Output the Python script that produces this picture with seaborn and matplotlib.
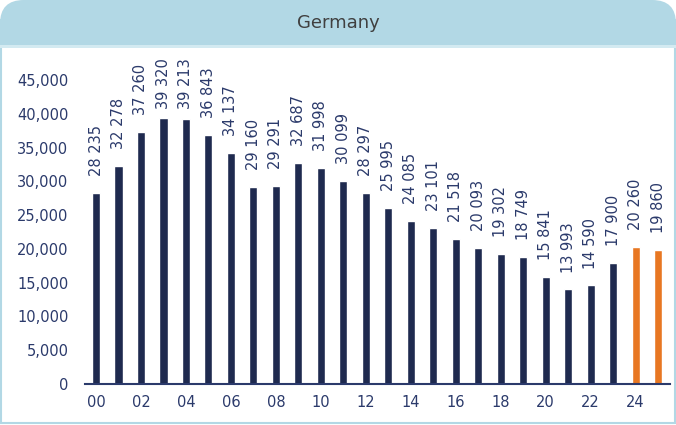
import matplotlib
matplotlib.use("Agg")
import matplotlib.pyplot as plt
from matplotlib.patches import FancyBboxPatch, Rectangle
from matplotlib.ticker import FuncFormatter
import pandas as pd
import seaborn as sns

years = ["00", "01", "02", "03", "04", "05", "06", "07", "08", "09", "10", "11", "12",
         "13", "14", "15", "16", "17", "18", "19", "20", "21", "22", "23", "24", "25"]
values = [28235, 32278, 37260, 39320, 39213, 36843, 34137, 29160, 29291, 32687, 31998, 30099,
          28297, 25995, 24085, 23101, 21518, 20093, 19302, 18749, 15841, 13993, 14590, 17900,
          20260, 19860]
forecast = ["24", "25"]

navy = "#1f2a4f"
orange = "#e87722"
text_col = "#2b3a6b"
frame_col = "#b2d8e5"

data = pd.DataFrame({"year": years, "value": values})
colors = {y: (orange if y in forecast else navy) for y in years}

sns.set_style("white")
plt.rcParams['font.family'] = ['DejaVu Sans']

fig = plt.figure(figsize=(6.76, 4.25), dpi=100)

# frame + title bar (rounded top corners only)
fig.patches.append(Rectangle((0.002, 0.004), 0.996, 0.95, transform=fig.transFigure,
                             fill=False, edgecolor=frame_col, linewidth=1.5, zorder=0))
fig.patches.append(FancyBboxPatch((0.0, 0.894), 1.0, 0.106, transform=fig.transFigure,
                                  boxstyle="round,pad=0,rounding_size=0.035",
                                  facecolor=frame_col, edgecolor="none", zorder=1,
                                  mutation_aspect=676 / 425))
fig.patches.append(Rectangle((0.0, 0.894), 1.0, 0.05, transform=fig.transFigure,
                             facecolor=frame_col, edgecolor="none", zorder=1))
fig.patches.append(Rectangle((0.0, 0.888), 1.0, 0.006, transform=fig.transFigure,
                             facecolor="#d3eaf1", edgecolor="none", zorder=1))
fig.text(0.5, 0.947, "Germany", ha="center", va="center", fontsize=13, color="#404040")

ax = fig.add_axes([85 / 676, 1 - 384 / 425, (670 - 85) / 676, (384 - 55) / 425])
sns.barplot(data=data, x="year", y="value", hue="year", palette=colors, legend=False,
            width=0.36, saturation=1, ax=ax)

# labels sit above the bars, pushed down where they would leave the plot area
for i, v in enumerate(values):
    ax.text(i, min(v + 2500, 40700), f"{v:,}".replace(",", " "), rotation=90,
            ha="center", va="bottom", fontsize=10.5, color=text_col)

ax.set_xlim(-0.49, 25.53)
ax.set_ylim(0, 48700)
ax.set_yticks(range(0, 45001, 5000))
ax.yaxis.set_major_formatter(FuncFormatter(lambda v, p: f"{int(v):,}"))
ax.set_xticks(range(0, 26, 2))
ax.set_xticklabels(years[::2])
ax.tick_params(axis="both", length=0, labelsize=10.5, labelcolor=text_col)
ax.tick_params(axis="x", pad=8)
ax.tick_params(axis="y", pad=12)
ax.set_xlabel("")
ax.set_ylabel("")
for s in ["top", "right", "left"]:
    ax.spines[s].set_visible(False)
ax.spines["bottom"].set_color(text_col)
ax.spines["bottom"].set_linewidth(1.5)
ax.patch.set_alpha(0)

fig.savefig("out.png", dpi=100)
